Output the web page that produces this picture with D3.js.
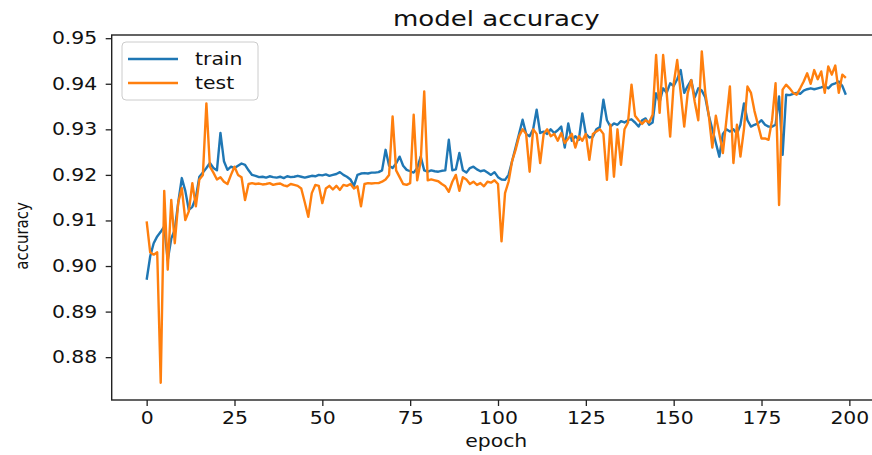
<!DOCTYPE html>
<html>
<head>
<meta charset="utf-8">
<script src="https://cdn.jsdelivr.net/npm/d3@7"></script>
<style>
  html, body { margin: 0; padding: 0; background: #fff; }
  svg { display: block; font-family: "DejaVu Sans", sans-serif; }
</style>
</head>
<body>
<div id="chart"></div>
<script>
// model accuracy per epoch
const trainAcc = [
  0.8970, 0.9021, 0.9050, 0.9065, 0.9075, 0.9087, 0.9013, 0.9060, 0.9080, 0.9140,
  0.9193, 0.9165, 0.9123, 0.9130, 0.9150, 0.9196, 0.9205, 0.9215, 0.9226, 0.9215,
  0.9210, 0.9292, 0.9230, 0.9211, 0.9218, 0.9215, 0.9220, 0.9225, 0.9222, 0.9210,
  0.9200, 0.9198, 0.9195, 0.9196, 0.9194, 0.9197, 0.9195, 0.9194, 0.9196, 0.9193,
  0.9197, 0.9195, 0.9196, 0.9198, 0.9196, 0.9194, 0.9196, 0.9198, 0.9197, 0.9200,
  0.9199, 0.9201, 0.9198, 0.9200, 0.9202, 0.9206, 0.9200, 0.9196, 0.9190, 0.9176,
  0.9200, 0.9203, 0.9204, 0.9203, 0.9205, 0.9205, 0.9206, 0.9210, 0.9255, 0.9220,
  0.9215, 0.9225, 0.9240, 0.9220, 0.9211, 0.9208, 0.9205, 0.9215, 0.9240, 0.9210,
  0.9207, 0.9210, 0.9208, 0.9207, 0.9209, 0.9210, 0.9277, 0.9210, 0.9212, 0.9248,
  0.9210, 0.9205, 0.9215, 0.9218, 0.9212, 0.9208, 0.9210, 0.9205, 0.9200, 0.9206,
  0.9195, 0.9190, 0.9189, 0.9200, 0.9230, 0.9260, 0.9290, 0.9321, 0.9290, 0.9285,
  0.9300, 0.9343, 0.9292, 0.9295, 0.9290, 0.9300, 0.9292, 0.9298, 0.9306, 0.9260,
  0.9313, 0.9275, 0.9285, 0.9277, 0.9335, 0.9290, 0.9282, 0.9284, 0.9300, 0.9305,
  0.9365, 0.9320, 0.9306, 0.9313, 0.9310, 0.9318, 0.9315, 0.9320, 0.9322, 0.9315,
  0.9306, 0.9320, 0.9324, 0.9310, 0.9315, 0.9379, 0.9360, 0.9390, 0.9380, 0.9401,
  0.9395, 0.9410, 0.9430, 0.9380, 0.9395, 0.9408, 0.9370, 0.9390, 0.9385, 0.9370,
  0.9330, 0.9300, 0.9270, 0.9240, 0.9290, 0.9300, 0.9295, 0.9300, 0.9290, 0.9310,
  0.9357, 0.9320, 0.9306, 0.9310, 0.9313, 0.9320, 0.9310, 0.9306, 0.9306, 0.9310,
  0.9372, 0.9244, 0.9376, 0.9375, 0.9378, 0.9380, 0.9378, 0.9385, 0.9388, 0.9390,
  0.9388, 0.9390, 0.9392, 0.9395, 0.9390, 0.9398, 0.9401, 0.9405, 0.9395, 0.9376
];
const testAcc = [
  0.9098, 0.9030, 0.9025, 0.9030, 0.8744, 0.9165, 0.8992, 0.9145, 0.9050, 0.9140,
  0.9171, 0.9101, 0.9120, 0.9182, 0.9131, 0.9190, 0.9200, 0.9357, 0.9218, 0.9205,
  0.9190, 0.9195, 0.9185, 0.9180, 0.9200, 0.9218, 0.9200, 0.9195, 0.9145, 0.9180,
  0.9182, 0.9180, 0.9181, 0.9179, 0.9180, 0.9182, 0.9178, 0.9180, 0.9181, 0.9177,
  0.9175, 0.9180, 0.9178, 0.9176, 0.9170, 0.9140, 0.9108, 0.9160, 0.9178, 0.9176,
  0.9138, 0.9170, 0.9176, 0.9168, 0.9176, 0.9167, 0.9178, 0.9176, 0.9180, 0.9170,
  0.9175, 0.9131, 0.9180, 0.9182, 0.9181, 0.9182, 0.9182, 0.9185, 0.9190, 0.9200,
  0.9328, 0.9210, 0.9195, 0.9180, 0.9178, 0.9182, 0.9332, 0.9188, 0.9230, 0.9383,
  0.9188, 0.9190, 0.9188, 0.9186, 0.9180, 0.9175, 0.9163, 0.9185, 0.9200, 0.9165,
  0.9195, 0.9190, 0.9180, 0.9185, 0.9178, 0.9182, 0.9175, 0.9185, 0.9183, 0.9188,
  0.9180, 0.9054, 0.9160, 0.9185, 0.9230, 0.9255, 0.9285, 0.9300, 0.9290, 0.9207,
  0.9300, 0.9290, 0.9226, 0.9290, 0.9300, 0.9285, 0.9290, 0.9275, 0.9292, 0.9270,
  0.9280, 0.9290, 0.9260, 0.9285, 0.9275, 0.9290, 0.9233, 0.9290, 0.9295, 0.9300,
  0.9290, 0.9189, 0.9310, 0.9196, 0.9300, 0.9222, 0.9300, 0.9315, 0.9398, 0.9330,
  0.9320, 0.9312, 0.9320, 0.9315, 0.9332, 0.9463, 0.9336, 0.9463, 0.9380, 0.9284,
  0.9400, 0.9452, 0.9380, 0.9306, 0.9380, 0.9408, 0.9360, 0.9320, 0.9471, 0.9380,
  0.9330, 0.9260, 0.9330, 0.9290, 0.9248, 0.9320, 0.9394, 0.9226, 0.9310, 0.9240,
  0.9300, 0.9394, 0.9380, 0.9340, 0.9310, 0.9280, 0.9280, 0.9277, 0.9320, 0.9401,
  0.9134, 0.9387, 0.9398, 0.9390, 0.9380, 0.9376, 0.9390, 0.9405, 0.9423, 0.9400,
  0.9430, 0.9410, 0.9427, 0.9380, 0.9438, 0.9420, 0.9440, 0.9380, 0.9420, 0.9413
];
const seriesNames = ['train', 'test'];
const seriesColors = ['#1f77b4', '#ff7f0e'];
const xTicks = [0, 25, 50, 75, 100, 125, 150, 175, 200];
const yTicks = [0.88, 0.89, 0.90, 0.91, 0.92, 0.93, 0.94, 0.95];

const W = 872, H = 455;
const stretch = 1.2; // the picture is wider than it is tall, text too

const svg = d3.select('#chart').append('svg').attr('width', W).attr('height', H);

const epochs = d3.range(trainAcc.length);
const pad = (epochs.length - 1) * 0.05;
const x = d3.scaleLinear().domain([-pad, epochs.length - 1 + pad]).range([111.7, 880.8]);
const y = d3.scaleLinear().domain([0.8706, 0.9507]).range([400, 35]);

const line = d3.line().x((d, i) => x(i)).y(d => y(d));

svg.append('g').selectAll('path')
  .data([trainAcc, testAcc])
  .join('path')
  .attr('fill', 'none')
  .attr('stroke', (d, i) => seriesColors[i])
  .attr('stroke-width', 2.4)
  .attr('stroke-linejoin', 'round')
  .attr('d', line);

// frame
svg.append('rect')
  .attr('x', x.range()[0]).attr('y', 35)
  .attr('width', x.range()[1] - x.range()[0]).attr('height', 365)
  .attr('fill', 'none').attr('stroke', '#222').attr('stroke-width', 1.4);

const xAxis = svg.append('g').attr('transform', `translate(0,400)`)
  .call(d3.axisBottom(x).tickValues(xTicks).tickFormat(d3.format('d')).tickSize(6).tickPadding(6));
const yAxis = svg.append('g').attr('transform', `translate(${x.range()[0]},0)`)
  .call(d3.axisLeft(y).tickValues(yTicks).tickFormat(d3.format('.2f')).tickSize(6).tickPadding(6));

[xAxis, yAxis].forEach(g => {
  g.select('.domain').remove();
  g.selectAll('line').attr('stroke', '#222').attr('stroke-width', 1.3);
  g.selectAll('text').attr('fill', '#111').style('font-size', '17px')
    .style('font-family', '"DejaVu Sans", sans-serif');
});
xAxis.selectAll('text').attr('transform', `scale(${stretch},1)`);
yAxis.selectAll('text').attr('transform', `scale(${stretch},1)`);

// title and axis labels
svg.append('text')
  .attr('transform', `translate(${(x.range()[0] + x.range()[1]) / 2},26) scale(1.24,1)`)
  .attr('text-anchor', 'middle').style('font-size', '21px').attr('fill', '#111')
  .text('model accuracy');
svg.append('text')
  .attr('transform', `translate(${(x.range()[0] + x.range()[1]) / 2},447) scale(${stretch},1)`)
  .attr('text-anchor', 'middle').style('font-size', '17px').attr('fill', '#111')
  .text('epoch');
svg.append('text')
  .attr('transform', `translate(28,${y(0.9066)}) scale(${stretch},1) rotate(-90)`)
  .attr('text-anchor', 'middle').style('font-size', '15px').attr('fill', '#111')
  .text('accuracy');

// legend
const legend = svg.append('g').attr('transform', 'translate(122,42)');
legend.append('rect').attr('width', 136).attr('height', 58).attr('rx', 4)
  .attr('fill', 'rgba(255,255,255,0.8)').attr('stroke', '#ccc');
seriesNames.forEach((name, i) => {
  const g = legend.append('g').attr('transform', `translate(0,${17 + i * 24})`);
  g.append('line').attr('x1', 6).attr('x2', 56).attr('stroke', seriesColors[i]).attr('stroke-width', 2.4);
  g.append('text').attr('transform', `translate(73,6) scale(${stretch},1)`)
    .style('font-size', '17px').attr('fill', '#111').text(name);
});
</script>
</body>
</html>
